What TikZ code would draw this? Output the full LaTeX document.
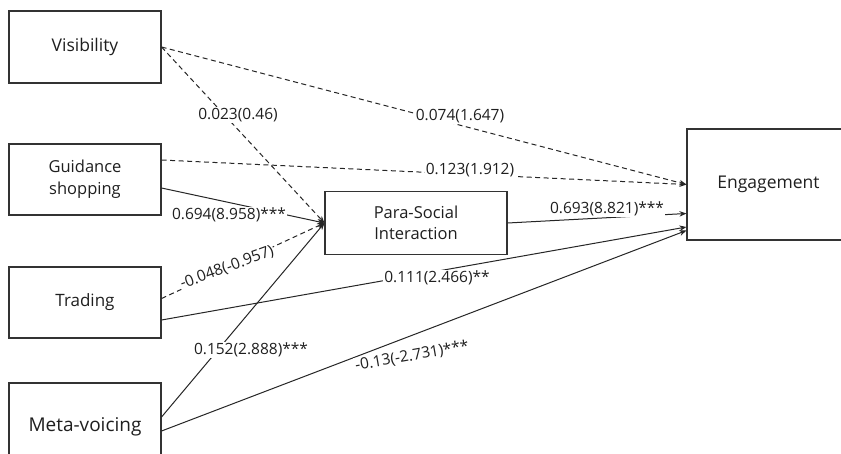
\documentclass[tikz,border=0pt]{standalone}
\usepackage{fontspec}
\setmainfont{Open Sans}
\usetikzlibrary{arrows.meta}
\begin{document}
\begin{tikzpicture}[x=1pt,y=-1pt,
  box/.style={draw=black!80, line width=1.1pt, rectangle, align=center, inner sep=0pt, text=black!88},
  lbl/.style={fill=white, inner sep=0.8pt, font=\fontsize{15.5}{18}\selectfont, text=black!88},
  conn/.style={line width=1pt, draw=black!85, -{Stealth[length=7pt,width=5.5pt]}},
  dconn/.style={conn, dash pattern=on 5pt off 3.5pt}]
\useasboundingbox (0,0) rectangle (841,453);
\clip (0,0) rectangle (841,453);
\fill[white] (0,0) rectangle (841,453);
% boxes
\node[box, minimum width=152pt, minimum height=72pt, font=\fontsize{17.5}{20}\selectfont] (vis) at (85,47) {Visibility};
\node[box, minimum width=152pt, minimum height=71pt, font=\fontsize{16.5}{22}\selectfont] (gs) at (85,179.5) {Guidance\\shopping};
\node[box, minimum width=152pt, minimum height=71pt, font=\fontsize{17}{20}\selectfont] (tr) at (85,302.5) {Trading};
\node[box, minimum width=152pt, minimum height=87pt, font=\fontsize{19}{22}\selectfont] (mv) at (85,426.5) {Meta-voicing};
\node[box, minimum width=182pt, minimum height=63pt, font=\fontsize{16.5}{21}\selectfont] (psi) at (416,223) {Para-Social\\Interaction};
\node[box, minimum width=163pt, minimum height=111pt, font=\fontsize{17.5}{20}\selectfont] (eng) at (768.5,184.5) {Engagement};
% connectors
\draw[dconn] (vis.east) -- (eng.west);
\draw[dconn] (vis.east) -- (psi.west);
\draw[dconn] ([yshift=19.5pt]gs.east) -- (eng.west);
\draw[conn] ([yshift=-8.5pt]gs.east) -- (psi.west);
\draw[dconn] ([yshift=4pt]tr.east) -- (psi.west);
\draw[conn] ([yshift=-17.5pt]tr.east) -- ([yshift=-42.5pt]eng.west);
\draw[conn] ([yshift=9.5pt]mv.east) -- (psi.west);
\draw[conn] ([yshift=-4.5pt]mv.east) -- ([yshift=-46pt]eng.west);
\draw[conn] (psi.east) -- ([yshift=-29pt]eng.west);
% labels
\node[lbl] (l1) at (238,115) {0.023(0.46)};
\node[lbl] (l2) at (460,116) {0.074(1.647)};
\node[lbl] (l3) at (470,170) {0.123(1.912)};
\node[lbl] (l4) at (229,215) {0.694(8.958)***};
\node[lbl] (l5) at (607,209) {0.693(8.821)***};
\node[lbl, rotate=20] (l6) at (227,268) {-0.048(-0.957)};
\node[lbl] (l7) at (437,278) {0.111(2.466)**};
\node[lbl] (l8) at (251,350) {0.152(2.888)***};
\node[lbl, rotate=10] (l9) at (412,356) {-0.13(-2.731)***};
\end{tikzpicture}
\end{document}
